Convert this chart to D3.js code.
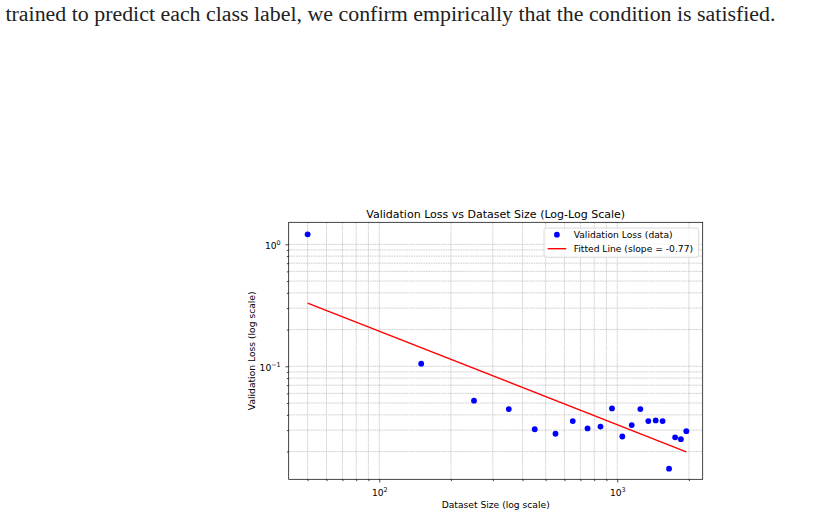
<!DOCTYPE html>
<html><head><meta charset="utf-8">
<script src="https://cdn.jsdelivr.net/npm/d3@7"></script>
<style>body{margin:0;background:#fff} svg{display:block}</style>
</head><body>
<svg id="c" width="817" height="518"></svg>
<script>
// ---- data ----
const datasetSizes = [50,150,250,350,450,550,650,750,850,950,1050,1150,1250,1350,1450,1550,1650,1750,1850,1950];
const validationLoss = [1.208,0.1052,0.0523,0.0446,0.0305,0.0280,0.0356,0.0310,0.0321,0.0452,0.0266,0.0330,0.0446,0.0356,0.0360,0.0356,0.0145,0.0262,0.0253,0.0294];
const fitX = [50,1950];
const fitY = [0.33,0.0199];
const fitSlopeLabel = "-0.77";
const xMajorTicks = [100,1000];
const xMajorExp = ["2","3"];
const xMinorTicks = [50,60,70,80,90,200,300,400,500,600,700,800,900,2000];
const yMajorTicks = [0.1,1];
const yMajorExp = ["\u22121","0"];
const yMinorTicks = [0.02,0.03,0.04,0.05,0.06,0.07,0.08,0.09,0.2,0.3,0.4,0.5,0.6,0.7,0.8,0.9];
const titleText = "Validation Loss vs Dataset Size (Log-Log Scale)";
const xLabelText = "Dataset Size (log scale)";
const yLabelText = "Validation Loss (log scale)";
const legendLabels = ["Validation Loss (data)", "Fitted Line (slope = " + fitSlopeLabel + ")"];
const bodyText = "trained to predict each class label, we confirm empirically that the condition is satisfied.";

// ---- layout ----
const L = 288.7, R = 702.7, T = 222.3, B = 479.3;
const FONT = "DejaVu Sans";
const fs = 9.17;
const svg = d3.select("#c");

const x = d3.scaleLog().domain([41.63, 2285]).range([L, R]);
const y = d3.scaleLog().domain([0.011858, 1.5146]).range([B, T]);

// body text line
svg.append("text").attr("x", 5.5).attr("y", 21)
  .attr("font-family", "Liberation Serif, Times New Roman, serif")
  .attr("font-size", 20.5).attr("fill", "#222")
  .attr("textLength", 770).attr("lengthAdjust", "spacingAndGlyphs")
  .text(bodyText);

// grid
const grid = svg.append("g").attr("stroke", "#b0b0b0").attr("stroke-width", 0.6)
  .attr("stroke-dasharray", "1.7,0.75").attr("fill", "none");
xMajorTicks.concat(xMinorTicks).forEach(v => {
  grid.append("line").attr("x1", x(v)).attr("x2", x(v)).attr("y1", T).attr("y2", B);
});
yMajorTicks.concat(yMinorTicks).forEach(v => {
  grid.append("line").attr("x1", L).attr("x2", R).attr("y1", y(v)).attr("y2", y(v));
});

// fitted line
svg.append("path")
  .datum(fitX.map((d, i) => [d, fitY[i]]))
  .attr("d", d3.line().x(d => x(d[0])).y(d => y(d[1])))
  .attr("stroke", "red").attr("stroke-width", 1.375).attr("fill", "none");

// points
svg.append("g").selectAll("circle").data(datasetSizes).join("circle")
  .attr("cx", d => x(d)).attr("cy", (d, i) => y(validationLoss[i]))
  .attr("r", 2.9).attr("fill", "blue");

// axes
function styleAxis(g) {
  g.select(".domain").remove();
  g.selectAll("line").attr("stroke", "#000").attr("stroke-width", 0.73);
}
const xAxisMaj = svg.append("g").attr("transform", `translate(0,${B})`)
  .call(d3.axisBottom(x).tickValues(xMajorTicks).tickSize(3.2).tickPadding(3.2).tickFormat(""));
styleAxis(xAxisMaj);
xAxisMaj.selectAll(".tick text").each(function(d, i) {
  const t = d3.select(this).attr("font-family", FONT).attr("font-size", fs).attr("fill", "#000")
    .attr("y", 0).attr("dy", 0).attr("transform", "translate(0,16.7)").attr("text-anchor", "middle");
  t.text(null);
  t.append("tspan").text("10");
  t.append("tspan").attr("font-size", fs * 0.7).attr("dy", -4.5).text(xMajorExp[i]);
});
const xAxisMin = svg.append("g").attr("transform", `translate(0,${B})`)
  .call(d3.axisBottom(x).tickValues(xMinorTicks).tickSize(1.83).tickFormat(""));
styleAxis(xAxisMin);

const yAxisMaj = svg.append("g").attr("transform", `translate(${L},0)`)
  .call(d3.axisLeft(y).tickValues(yMajorTicks).tickSize(3.2).tickPadding(3.2).tickFormat(""));
styleAxis(yAxisMaj);
yAxisMaj.selectAll(".tick text").each(function(d, i) {
  const t = d3.select(this).attr("font-family", FONT).attr("font-size", fs).attr("fill", "#000")
    .attr("x", -8).attr("dy", 0).attr("y", 4.6).attr("text-anchor", "end");
  t.text(null);
  t.append("tspan").text("10");
  t.append("tspan").attr("font-size", fs * 0.7).attr("dy", -4.2).text(yMajorExp[i]);
});
const yAxisMin = svg.append("g").attr("transform", `translate(${L},0)`)
  .call(d3.axisLeft(y).tickValues(yMinorTicks).tickSize(1.83).tickFormat(""));
styleAxis(yAxisMin);

// spines
svg.append("rect").attr("x", L).attr("y", T).attr("width", R - L).attr("height", B - T)
  .attr("fill", "none").attr("stroke", "#000").attr("stroke-width", 0.73);

// title & labels
svg.append("text").attr("x", (L + R) / 2).attr("y", 217.7).attr("text-anchor", "middle")
  .attr("font-family", FONT).attr("font-size", 11).attr("fill", "#000").text(titleText);
svg.append("text").attr("x", (L + R) / 2).attr("y", 507.7).attr("text-anchor", "middle")
  .attr("font-family", FONT).attr("font-size", fs).attr("fill", "#000").text(xLabelText);
svg.append("text").attr("transform", `translate(254.5,${(T + B) / 2}) rotate(-90)`)
  .attr("text-anchor", "middle")
  .attr("font-family", FONT).attr("font-size", fs).attr("fill", "#000").text(yLabelText);

// legend
const lg = svg.append("g");
lg.append("rect").attr("x", 544).attr("y", 228).attr("width", 154.7).attr("height", 29.3)
  .attr("rx", 2.5).attr("fill", "#fff").attr("fill-opacity", 0.8)
  .attr("stroke", "#cccccc").attr("stroke-width", 0.73);
lg.append("circle").attr("cx", 556.9).attr("cy", 234.7).attr("r", 2.9).attr("fill", "blue");
lg.append("line").attr("x1", 547.7).attr("x2", 566.2).attr("y1", 248.7).attr("y2", 248.7)
  .attr("stroke", "red").attr("stroke-width", 1.375);
lg.selectAll("text.lab").data(legendLabels).join("text").attr("class", "lab")
  .attr("x", 573.7).attr("y", (d, i) => 238 + i * 14)
  .attr("font-family", FONT).attr("font-size", fs).attr("fill", "#000").text(d => d);
</script>
</body></html>
